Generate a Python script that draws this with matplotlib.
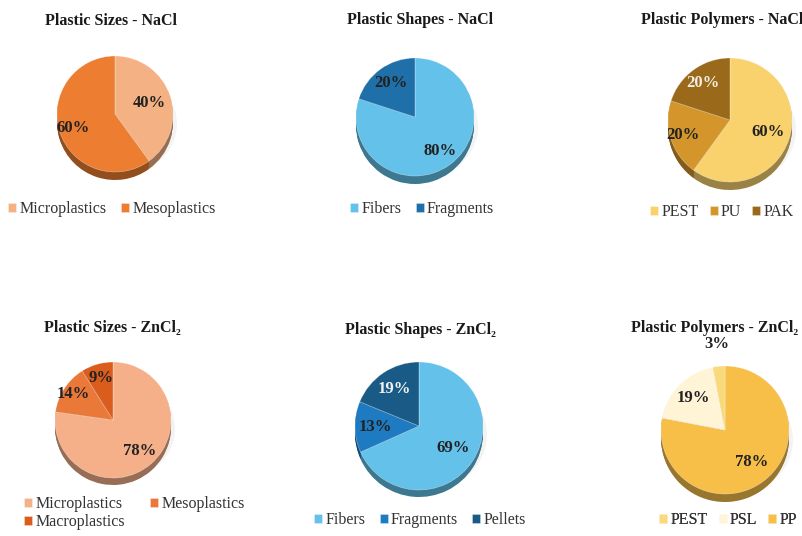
import matplotlib

matplotlib.use("Agg")
import matplotlib.pyplot as plt
import matplotlib.colors as mcolors
import numpy as np

W, H = 803, 536

# data
sizes_nacl_labels = ["Microplastics", "Mesoplastics"]
sizes_nacl_values = [40, 60]

shapes_nacl_labels = ["Fibers", "Fragments"]
shapes_nacl_values = [80, 20]

polymers_nacl_labels = ["PEST", "PU", "PAK"]
polymers_nacl_values = [60, 20, 20]

sizes_zncl_labels = ["Microplastics", "Mesoplastics", "Macroplastics"]
sizes_zncl_values = [78, 14, 9]

shapes_zncl_labels = ["Fibers", "Fragments", "Pellets"]
shapes_zncl_values = [69, 13, 19]

# drawn clockwise from 12 o'clock: PP, PSL, PEST (legend order PEST, PSL, PP)
polymers_zncl_labels = ["PP", "PSL", "PEST"]
polymers_zncl_values = [78, 19, 3]

SERIF = ["Liberation Serif", "DejaVu Serif"]

fig = plt.figure(figsize=(W / 100, H / 100), dpi=100)
ax = fig.add_axes([0, 0, 1, 1])


def Y(y):
    return H - y


def darker(c, f=0.62):
    r, g, b = mcolors.to_rgb(c)
    return (r * f, g * f, b * f)


def draw_panel(values, names, colors, center, radius, depth, title, title_xy,
               dists, text_colors, legend_order, legend_anchor, legend_loc="center",
               ncol=None, colsp=0.9):
    cx, cy = center
    # soft shadow under the pie
    sh = matplotlib.patches.Ellipse((cx + 2, Y(cy) - depth - 2), 2 * radius + 4, 2 * radius * 0.9,
                                    color="#e3e3e3", alpha=0.4, lw=0, zorder=0)
    ax.add_patch(sh)
    # 3D side
    side_cols = [darker(c) for c in colors]
    for d in range(depth, 0, -1):
        ax.pie(values, colors=side_cols, startangle=90, counterclock=False,
               center=(cx, Y(cy) - d), radius=radius, wedgeprops=dict(linewidth=0))
    wedges, _ = ax.pie(values, colors=colors, startangle=90, counterclock=False,
                       center=(cx, Y(cy)), radius=radius,
                       wedgeprops=dict(linewidth=0.4, edgecolor=(1, 1, 1, 0.5)))
    for w, v, dist, tc in zip(wedges, values, dists, text_colors):
        mid = np.deg2rad((w.theta1 + w.theta2) / 2)
        ax.text(cx + dist * radius * np.cos(mid), Y(cy) + dist * radius * np.sin(mid),
                f"{v}%", ha="center", va="center", fontsize=12, fontweight="bold",
                color=tc, family=SERIF, zorder=5)
    ax.text(title_xy[0], Y(title_xy[1]), title, ha="center", va="center",
            fontsize=11.5, fontweight="bold", family=SERIF, color="#1a1a1a")
    handles = [wedges[i] for i in legend_order]
    labels = [names[i] for i in legend_order]
    leg = ax.legend(handles, labels, loc=legend_loc, bbox_to_anchor=(legend_anchor[0], Y(legend_anchor[1])),
                    bbox_transform=ax.transData, ncol=ncol or len(labels), frameon=False,
                    prop={"family": SERIF, "size": 11.5}, handlelength=0.5, handleheight=0.5,
                    handletextpad=0.2, columnspacing=colsp, borderpad=0, labelspacing=0.15,
                    labelcolor="#333333")
    ax.add_artist(leg)


draw_panel(sizes_nacl_values, sizes_nacl_labels, ["#F4B183", "#ED7D31"],
           (115, 114), 58, 8, "Plastic Sizes - NaCl", (111, 21),
           [0.62, 0.76], ["#222222", "#222222"], [0, 1], (112, 209))

draw_panel(shapes_nacl_values, shapes_nacl_labels, ["#63C1EA", "#1F6FA8"],
           (415, 117), 59, 8, "Plastic Shapes - NaCl", (420, 20),
           [0.72, 0.71], ["#222222", "#222222"], [0, 1], (422, 209))

draw_panel(polymers_nacl_values, polymers_nacl_labels, ["#F9D26E", "#D4952B", "#9A6A1A"],
           (730, 120), 62, 8, "Plastic Polymers - NaCl", (722, 20),
           [0.65, 0.8, 0.74], ["#222222", "#222222", "#F2EEE6"], [0, 1, 2], (722, 212),
           colsp=0.7)

draw_panel(sizes_zncl_values, sizes_zncl_labels, ["#F5B08A", "#EA7838", "#DA5D1E"],
           (113, 420), 58, 7, "Plastic Sizes - ZnCl\u2082", (112, 328),
           [0.7, 0.82, 0.75], ["#222222", "#222222", "#222222"], [0, 2, 1], (16, 488),
           legend_loc="upper left", ncol=2, colsp=1.6)

draw_panel(shapes_zncl_values, shapes_zncl_labels, ["#63C1EA", "#1E7BC2", "#195A86"],
           (419, 426), 64, 7, "Plastic Shapes - ZnCl\u2082", (420, 330),
           [0.64, 0.68, 0.69], ["#222222", "#222222", "#F2F2F2"], [0, 1, 2], (420, 520))

draw_panel(polymers_zncl_values, polymers_zncl_labels, ["#F7BF48", "#FFF4D6", "#F9D97A"],
           (725, 430), 64, 8, "Plastic Polymers - ZnCl\u2082", (715, 328),
           [0.65, 0.71, 1.35], ["#222222", "#222222", "#222222"], [2, 1, 0], (728, 520),
           colsp=0.7)

ax.set_xlim(0, W)
ax.set_ylim(0, H)
ax.set_aspect("equal")
ax.axis("off")

fig.savefig("out.png", dpi=100, facecolor="white")
